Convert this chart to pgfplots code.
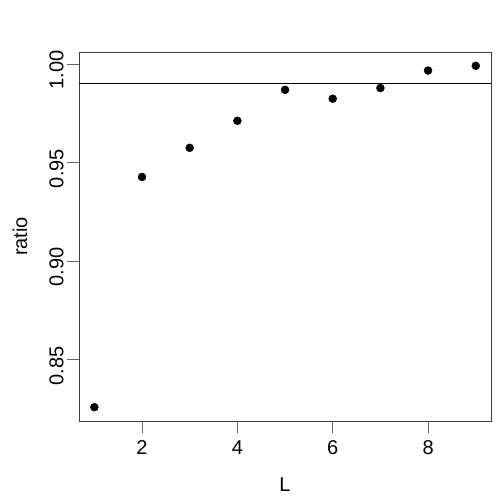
\documentclass[border=0pt]{standalone}
\usepackage{pgfplots}
\pgfplotsset{compat=1.18}
\usepackage{fontspec}
\setmainfont{Liberation Sans}
\begin{document}
\begin{tikzpicture}
\begin{axis}[
  at={(0pt,0pt)}, anchor=south west,
  scale only axis, width=412pt, height=369pt,
  xmin=0.678, xmax=9.32, ymin=0.8189, ymax=1.0061,
  xtick={2,4,6,8}, ytick={0.85,0.90,0.95,1.00},
  yticklabel style={rotate=90, anchor=south, /pgf/number format/fixed, /pgf/number format/fixed zerofill, /pgf/number format/precision=2},
  /pgf/number format/assume math mode=true,
  tick align=outside, tick pos=left,
  major tick length=12pt,
  every tick/.style={black!60, line width=0.8pt},
  axis line style={black!75, line width=0.8pt},
  tick label style={font=\fontsize{20}{24}\selectfont},
  xticklabel style={yshift=-4pt},
  yticklabel style={xshift=-6pt},
  xlabel={L}, ylabel={ratio},
  every axis x label/.style={at={(axis description cs:0.5,-0.1735)}, anchor=center, font=\fontsize{20}{24}\selectfont},
  every axis y label/.style={at={(axis description cs:-0.1432,0.5)}, anchor=center, rotate=90, font=\fontsize{20}{24}\selectfont},
  clip=false,
]
\addplot[only marks, mark=*, mark size=4pt, black] coordinates {
 (1,0.8259) (2,0.9427) (3,0.9575) (4,0.9712) (5,0.9869) (6,0.9824) (7,0.9878) (8,0.9967) (9,0.9991)
};
\draw[black, line width=1.2pt] (axis cs:0.678,0.990) -- (axis cs:9.32,0.990);
\end{axis}
\path[use as bounding box] (-79pt,-79pt) rectangle (421pt,421pt);
\end{tikzpicture}
\end{document}
